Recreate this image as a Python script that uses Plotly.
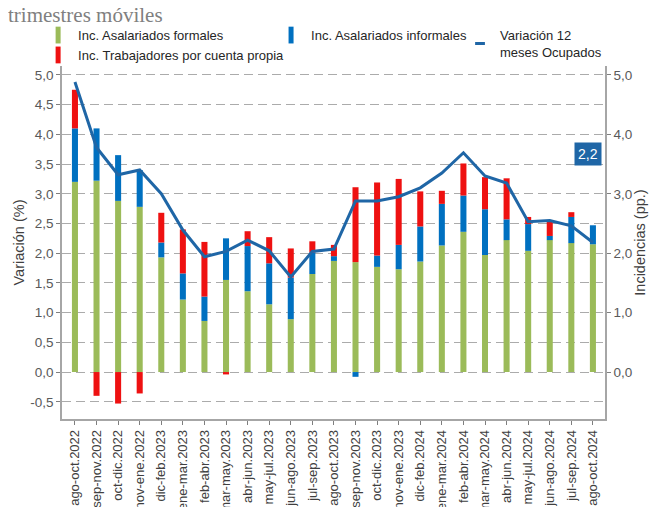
"""
Incidencias en la variación 12 meses de ocupados, trimestres móviles.
"""
import plotly.graph_objects as go

categories = [
    "ago-oct.2022", "sep-nov.2022", "oct-dic.2022", "nov-ene.2022",
    "dic-feb.2023", "ene-mar.2023", "feb-abr.2023", "mar-may.2023",
    "abr-jun.2023", "may-jul.2023", "jun-ago.2023", "jul-sep.2023",
    "ago-oct.2023", "sep-nov.2023", "oct-dic.2023", "nov-ene.2023",
    "dic-feb.2024", "ene-mar.2024", "feb-abr.2024", "mar-may.2024",
    "abr-jun.2024", "may-jul.2024", "jun-ago.2024", "jul-sep.2024",
    "ago-oct.2024",
]
formales = [3.20, 3.22, 2.88, 2.78, 1.93, 1.22, 0.86, 1.55, 1.36, 1.14, 0.89, 1.65,
            1.87, 1.85, 1.77, 1.73, 1.86, 2.13, 2.36, 1.97, 2.22, 2.04, 2.22, 2.17, 2.15]
informales = [0.90, 0.88, 0.77, 0.62, 0.25, 0.44, 0.41, 0.70, 0.76, 0.69, 0.70, 0.36,
              0.08, -0.08, 0.19, 0.41, 0.59, 0.70, 0.61, 0.77, 0.35, 0.45, 0.07, 0.44, 0.32]
cuenta_propia = [0.65, -0.40, -0.53, -0.36, 0.50, 0.74, 0.92, -0.04, 0.25, 0.44, 0.49, 0.19,
                 0.19, 1.26, 1.23, 1.11, 0.59, 0.22, 0.54, 0.54, 0.69, 0.12, 0.25, 0.08, 0.0]
ocupados = [4.88, 3.78, 3.32, 3.40, 3.00, 2.39, 1.94, 2.03, 2.22, 2.04, 1.60, 2.03,
            2.07, 2.88, 2.88, 2.95, 3.10, 3.35, 3.69, 3.30, 3.18, 2.53, 2.55, 2.46, 2.18]

left_ticks = [-0.5, 0.0, 0.5, 1.0, 1.5, 2.0, 2.5, 3.0, 3.5, 4.0, 4.5, 5.0]
left_labels = ["-0,5", "0,0", "0,5", "1,0", "1,5", "2,0", "2,5", "3,0", "3,5", "4,0", "4,5", "5,0"]
right_ticks = [0, 1, 2, 3, 4, 5]
right_labels = ["0,0", "1,0", "2,0", "3,0", "4,0", "5,0"]

GREEN = '#9BBB59'
BLUE = '#0070C0'
RED = '#EE1111'
LINE = '#1F66A6'
FONT = "Liberation Sans, Arial, sans-serif"

fig = go.Figure()

for name, vals, color in [
    ("Inc. Asalariados formales", formales, GREEN),
    ("Inc. Asalariados informales", informales, BLUE),
    ("Inc. Trabajadores por cuenta propia", cuenta_propia, RED),
]:
    fig.add_trace(go.Bar(
        x=categories, y=vals, name=name,
        marker_color=color, marker_line_width=0,
        width=0.28, showlegend=False,
    ))

fig.add_trace(go.Scatter(
    x=categories, y=ocupados, yaxis='y2',
    mode='lines', name='Variación 12 meses Ocupados',
    line=dict(color=LINE, width=3), showlegend=False,
))

# legend entries (narrow symbols like the original)
for name, color, sym, lg in [
    ("Inc. Asalariados formales", GREEN, 'line-ns', 'legend'),
    ("Inc. Trabajadores por cuenta propia", RED, 'line-ns', 'legend'),
    ("Inc. Asalariados informales", BLUE, 'line-ns', 'legend2'),
    ("Variación 12<br>meses Ocupados", LINE, 'line-ew', 'legend3'),
]:
    fig.add_trace(go.Scatter(
        x=[None], y=[None], mode='markers', name=name, legend=lg,
        marker=dict(symbol=sym, size=12 if sym == 'line-ns' else 7,
                    line=dict(color=color, width=5 if sym == 'line-ns' else 3)),
    ))

fig.add_annotation(
    x=categories[-1], y=ocupados[-1], yref='y2',
    text="2,2", showarrow=False, xshift=-5, yshift=89,
    bgcolor=LINE, borderpad=3,
    font=dict(color='white', size=14, family=FONT),
)

legend_common = dict(
    orientation='v', yanchor='top', xanchor='left', y=1.13,
    bgcolor='rgba(0,0,0,0)', font=dict(size=13, color='#262626', family=FONT),
    tracegroupgap=0, itemwidth=30,
)

# page body adds an 8px offset, so the figure is sized to fit the window
fig.update_layout(
    width=652, height=499,
    margin=dict(l=54, r=55, t=58, b=88),
    separators=',.',
    barmode='relative',
    plot_bgcolor='white', paper_bgcolor='white',
    font=dict(family=FONT, color='#404040'),
    title=dict(text="trimestres móviles", xref='container', yref='container',
               x=0.0, y=0.987, xanchor='left', yanchor='middle',
               font=dict(family="Liberation Serif, Times New Roman, serif", size=21, color='#808080')),
    legend=dict(x=-0.044, **legend_common),
    legend2=dict(x=0.385, **legend_common),
    legend3=dict(x=0.733, **legend_common),
    xaxis=dict(
        type='category', range=[-0.6, 24.56], tickangle=-90,
        ticks='outside', ticklen=4, tickcolor='#7F7F7F',
        showline=True, linecolor='#A6A6A6', linewidth=1.5,
        tickfont=dict(size=13, color='#404040'), automargin=False,
    ),
    yaxis=dict(
        range=[-0.79, 5.15], tickvals=left_ticks, ticktext=left_labels,
        showgrid=True, gridcolor='#ABABAB', griddash='9px,5px', gridwidth=1,
        zeroline=False, showline=True, linecolor='#A6A6A6', linewidth=1.5,
        ticks='outside', ticklen=4, tickcolor='#7F7F7F',
        tickfont=dict(size=13.5, color='#595959'),
        title=dict(text="Variación (%)", font=dict(size=14.5, color='#404040'), standoff=2),
        automargin=False,
    ),
    yaxis2=dict(
        overlaying='y', side='right',
        range=[-0.79, 5.15], tickvals=right_ticks, ticktext=right_labels,
        showgrid=False, zeroline=False, showline=True, linecolor='#A6A6A6', linewidth=1.5,
        ticks='outside', ticklen=4, tickcolor='#7F7F7F',
        tickfont=dict(size=13.5, color='#595959'),
        title=dict(text="Incidencias (pp.)", font=dict(size=14.5, color='#404040'), standoff=3),
        automargin=False,
    ),
)

fig.write_html("out.html")
